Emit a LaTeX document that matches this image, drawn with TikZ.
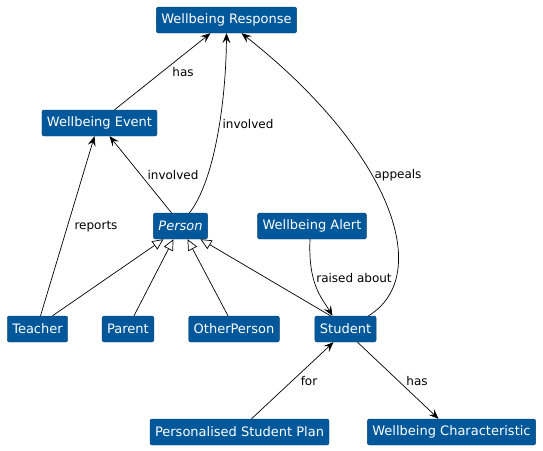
\documentclass[tikz,border=0pt]{standalone}
\usepackage{fontspec}
\setmainfont{DejaVu Sans}
\usetikzlibrary{arrows.meta}
\definecolor{umlblue}{RGB}{0,88,155}
\definecolor{umlline}{RGB}{8,66,118}

\begin{document}
\begin{tikzpicture}[x=1pt, y=-1pt,
    cls/.style={draw=umlline, fill=umlblue, text=white, rounded corners=2pt, inner xsep=5pt, inner ysep=0pt, minimum height=26pt, font=\fontsize{13}{15}\selectfont}, % class boxes
    lbl/.style={font=\fontsize{12}{14}\selectfont, inner sep=0pt},
    assoc/.style={-{Stealth[length=10pt,width=8pt,inset=4pt]}, line width=0.7pt},
    isa/.style={-{Triangle[open,length=11pt,width=10pt,fill=white]}, line width=0.7pt}
    ]
\useasboundingbox (0,0) rectangle (543,450);

\node[cls] (resp) at (226.5,20) {Wellbeing Response};
\node[cls] (event) at (99.5,123) {Wellbeing Event};
\node[cls] (person) at (180.5,226) {\itshape Person};
\node[cls] (alert) at (312,226) {Wellbeing Alert};
\node[cls] (teacher) at (37.5,329) {Teacher};
\node[cls] (parent) at (128,329) {Parent};
\node[cls] (other) at (234,329) {OtherPerson};
\node[cls] (student) at (345.5,329) {Student};
\node[cls] (plan) at (239.5,432) {Personalised Student Plan};
\node[cls] (charac) at (451.5,432) {Wellbeing Characteristic};

% associations
\draw[assoc] ([xshift=15pt]event.north) -- ([xshift=-16pt]resp.south);
\node[lbl] (lhas) at (183,72) {has};
\draw[assoc] ([xshift=-9pt]person.north) -- ([xshift=10pt]event.south);
\node[lbl] (linv) at (173,175) {involved};
\draw[assoc] ([xshift=9pt]person.north) .. controls (215,180) and (226,100) .. (resp.south);
\node[lbl] (linvb) at (248,124) {involved};
\draw[assoc] ([xshift=3pt]teacher.north) -- ([xshift=-5pt]event.south);
\node[lbl] (lrep) at (96,227) {reports};
\draw[assoc] ([xshift=-2pt]alert.south) .. controls (308,285) and (322,298) .. ([xshift=-13pt]student.north);
\node[lbl] (lraised) at (354,278) {raised about};
\draw[assoc] ([xshift=23pt]student.north) .. controls (435,275) and (390,150) .. ([xshift=15pt]resp.south);
\node[lbl] (lapp) at (398,175) {appeals};
\draw[assoc] ([xshift=12pt]plan.north) -- ([xshift=-12pt]student.south);
\node[lbl] (lfor) at (309,381) {for};
\draw[assoc] ([xshift=12pt]student.south) -- ([xshift=-13pt]charac.north);
\node[lbl] (lhasb) at (417,381) {has};

% generalisations
\draw[isa] ([xshift=15pt]teacher.north) -- ([xshift=-17pt]person.south);
\draw[isa] ([xshift=6pt]parent.north) -- ([xshift=-7pt]person.south);
\draw[isa] ([xshift=-6pt]other.north) -- ([xshift=7pt]person.south);
\draw[isa] ([xshift=-15pt]student.north) -- ([xshift=20pt]person.south);
\end{tikzpicture}
\end{document}
